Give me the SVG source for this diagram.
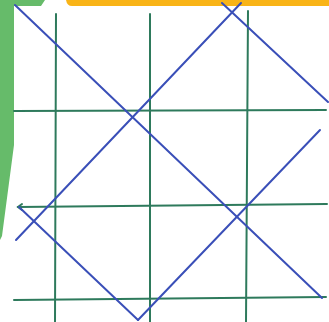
<svg xmlns="http://www.w3.org/2000/svg" width="329" height="322" viewBox="0 0 329 322">
<style>
.g{stroke:#2e7a5c;stroke-width:2;fill:none;stroke-linecap:round}
.b{stroke:#3a4fb8;stroke-width:2;fill:none;stroke-linecap:round}
</style>
<rect width="329" height="322" fill="#ffffff"/>
<g id="green-bar"><path d="M0,0 H45 L41,6 H14 V145 L2,236 L0,240 Z" fill="#66bb6a"/></g>
<g id="orange-bar"><path d="M66,0 H329 V6 H72 Q67,6 66,0 Z" fill="#f9b417"/></g>
<g id="grid">
<line class="g" x1="56" y1="14" x2="55" y2="322"/>
<line class="g" x1="150" y1="14" x2="150" y2="322"/>
<line class="g" x1="248" y1="11" x2="246" y2="322"/>
<line class="g" x1="14" y1="111" x2="326" y2="110"/>
<line class="g" x1="18" y1="207" x2="327" y2="204"/>
<line class="g" x1="14" y1="300" x2="326" y2="297"/>
<path class="g" d="M22,204 L18,207 L22,210" stroke-width="1.5"/>
</g>
<g id="diagonals">
<line class="b" x1="15" y1="5" x2="322" y2="298"/>
<line class="b" x1="222" y1="3" x2="328" y2="102"/>
<line class="b" x1="241" y1="3" x2="16" y2="240"/>
<line class="b" x1="19" y1="207" x2="138" y2="320"/>
<line class="b" x1="138" y1="320" x2="320" y2="130"/>
</g>
</svg>
